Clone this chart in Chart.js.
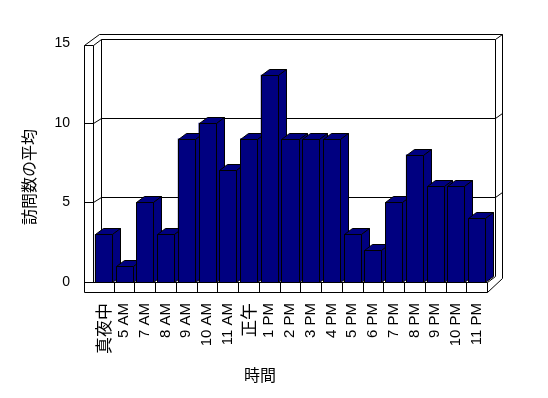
<!DOCTYPE html>
<html><head><meta charset="utf-8">
<script src="https://cdn.jsdelivr.net/npm/chart.js@4/dist/chart.umd.min.js"></script>
<style>html,body{margin:0;padding:0;background:#fff}canvas{display:block}</style>
</head><body>
<canvas id="c" width="548" height="398"></canvas>
<script>
const categories = ['真夜中','5 AM','7 AM','8 AM','9 AM','10 AM','11 AM','正午','1 PM','2 PM','3 PM','4 PM','5 PM','6 PM','7 PM','8 PM','9 PM','10 PM','11 PM'];
const visits = [3,1,5,3,9,10,7,9,13,9,9,9,3,2,5,8,6,6,4];
const yTicks = [0,5,10,15];
const xTitle = '時間';
const yTitle = '訪問数の平均';

const BAR = '#000080';
const DX = 8, DY = -6;
const LAT = "'Liberation Sans', 'Noto Sans CJK JP', sans-serif";
const CJK = "'Noto Sans CJK JP', 'Liberation Sans', sans-serif";
const px = v => Math.round(v) + 0.5;

function line(ctx, x1, y1, x2, y2) {
  ctx.beginPath();
  ctx.moveTo(px(x1), px(y1));
  ctx.lineTo(px(x2), px(y2));
  ctx.stroke();
}

const frame3d = {
  id: 'frame3d',
  beforeDatasetsDraw(chart) {
    const {ctx, chartArea: a, scales: {x, y}} = chart;
    const L = a.left, R = a.right;
    const B = y.getPixelForValue(yTicks[0]);
    const T = y.getPixelForValue(yTicks[yTicks.length - 1]);
    const WL = L - 9, FB = B + 10;
    ctx.save();
    ctx.strokeStyle = '#000';
    ctx.lineWidth = 1;
    // left wall
    line(ctx, WL, T + 2, WL, FB);
    line(ctx, L, T + 2, L, B);
    line(ctx, WL, T + 2, L, T + 2);
    line(ctx, WL, T + 2, L + 6, T - 9);
    line(ctx, L, T + 2, L + 8, T - 4);
    // back wall
    line(ctx, L + 6, T - 9, R + 15, T - 9);
    line(ctx, L + 8, T - 4, R + 8, T - 4);
    line(ctx, R + 8, T - 4, R + 15, T - 9);
    line(ctx, R + 8, T - 4, R + 8, B - 6);
    line(ctx, R + 15, T - 9, R + 15, B - 4);
    line(ctx, L + 8, T - 4, L + 8, B - 6);
    // gridlines
    yTicks.slice(1, -1).forEach(v => {
      const yy = y.getPixelForValue(v);
      line(ctx, WL, yy, L, yy);
      line(ctx, L, yy, L + 8, yy - 5);
      line(ctx, L + 8, yy - 5, R + 8, yy - 5);
      line(ctx, R + 8, yy - 5, R + 15, yy - 10);
    });
    // floor
    line(ctx, WL, B, R, B);
    line(ctx, WL, FB, R, FB);
    line(ctx, R, B, R, FB);
    line(ctx, R, B, R + 8, B - 6);
    line(ctx, R, FB, R + 15, B - 4);
    const n = categories.length;
    for (let i = 1; i < n; i++) {
      const xb = L + i * (R - L) / n;
      line(ctx, xb, B, xb, FB);
    }
    ctx.restore();
  },
  afterDatasetsDraw(chart) {
    const {ctx} = chart;
    const meta = chart.getDatasetMeta(0);
    ctx.save();
    ctx.fillStyle = BAR;
    ctx.strokeStyle = '#000';
    ctx.lineWidth = 1;
    meta.data.forEach(el => {
      const {x, y, base, width} = el.getProps(['x', 'y', 'base', 'width'], true);
      const l = px(x - width / 2), r = px(x + width / 2), t = px(y), b = px(base);
      // front
      ctx.beginPath();
      ctx.rect(l, t, r - l, b - t);
      ctx.fill(); ctx.stroke();
      // top
      ctx.beginPath();
      ctx.moveTo(l, t); ctx.lineTo(l + DX, t + DY); ctx.lineTo(r + DX, t + DY); ctx.lineTo(r, t);
      ctx.closePath(); ctx.fill(); ctx.stroke();
      // side
      ctx.beginPath();
      ctx.moveTo(r, t); ctx.lineTo(r + DX, t + DY); ctx.lineTo(r + DX, b + DY); ctx.lineTo(r, b);
      ctx.closePath(); ctx.fill(); ctx.stroke();
    });
    ctx.restore();
  },
  afterDraw(chart) {
    const {ctx} = chart;
    ctx.save();
    ctx.fillStyle = '#000';
    ctx.font = "16px " + CJK;
    ctx.textAlign = 'center';
    ctx.textBaseline = 'middle';
    ctx.fillText(xTitle, 260, 375);
    ctx.translate(29, 177);
    ctx.rotate(-Math.PI / 2);
    ctx.fillText(yTitle, 0, 0);
    ctx.restore();
  }
};

Chart.defaults.color = '#000';
new Chart(document.getElementById('c'), {
  type: 'bar',
  data: {
    labels: categories,
    datasets: [{
      data: visits,
      backgroundColor: BAR,
      borderWidth: 0,
      barPercentage: 0.82,
      categoryPercentage: 1
    }]
  },
  options: {
    responsive: false,
    animation: false,
    events: [],
    layout: {padding: {top: 43, right: 61, left: 0, bottom: 0}},
    plugins: {legend: {display: false}, tooltip: {enabled: false}},
    scales: {
      x: {
        grid: {display: false, drawTicks: false},
        border: {display: false},
        ticks: {
          autoSkip: false, minRotation: 90, maxRotation: 90, padding: 21,
          font: c => {
            const lab = c.tick && c.tick.label ? String(c.tick.label) : '';
            return /[^\x00-\x7F]/.test(lab) ? {family: CJK, size: 17} : {family: LAT, size: 15};
          }
        },
        afterFit: s => { s.height = 116; }
      },
      y: {
        min: 0, max: 15,
        grid: {display: false, drawTicks: false},
        border: {display: false},
        ticks: {stepSize: 5, padding: 23, font: {family: LAT, size: 14}},
        afterBuildTicks: s => { s.ticks = yTicks.map(v => ({value: v})); },
        afterFit: s => { s.width = 93; }
      }
    }
  },
  plugins: [frame3d]
});
</script>
</body></html>
